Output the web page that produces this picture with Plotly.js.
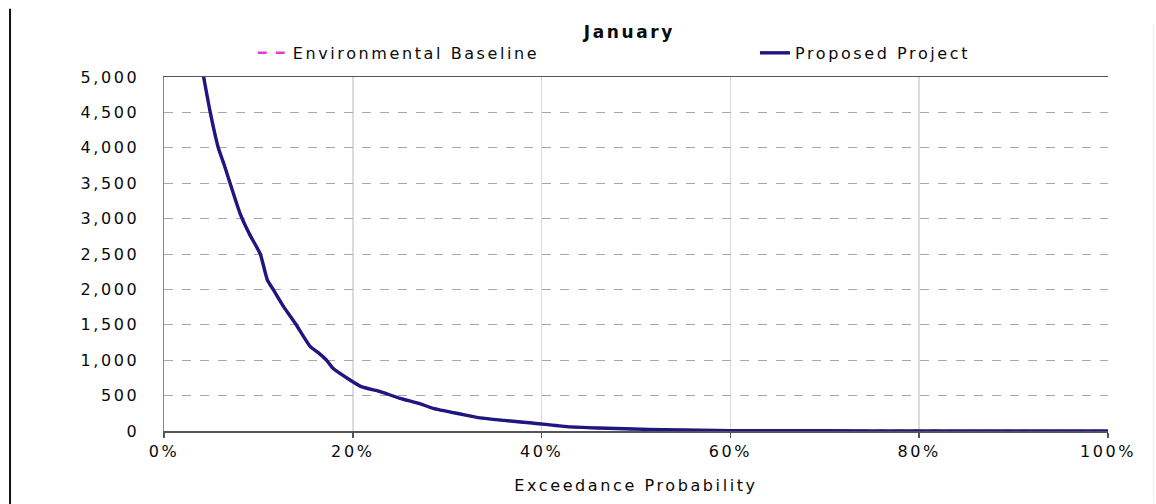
<!DOCTYPE html>
<html>
<head>
<meta charset="utf-8">
<script src="https://cdn.plot.ly/plotly-3.0.1.min.js"></script>
<style>
  html, body { margin: 0; padding: 0; background: #ffffff; }
  #chart { width: 1156px; height: 504px; }
  svg text { letter-spacing: 2.6px; }
</style>
</head>
<body>
<div id="chart"></div>
<script>
// Exceedance probability (%) and flow values
var exceedance = [3.8, 4.2, 4.9, 5.75, 6.4, 7.0, 8.05, 9.1, 10.2, 10.95, 11.6, 12.7, 13.9, 15.5, 16.4, 17.2, 17.9, 19.7, 20.9, 22.9, 25, 27, 28.5, 31.4, 33.5, 36, 39, 42.7, 46, 49.7, 53, 56.8, 60, 65, 70, 80, 90, 100];
var baseline   = [5300, 5000, 4500, 4000, 3750, 3500, 3075, 2770, 2500, 2133, 1992, 1750, 1521, 1191, 1100, 1003, 885, 720, 626, 556, 461, 390, 320, 240, 185, 150, 113, 62, 42, 28, 18, 10, 6, 4, 3, 2, 1, 0];
var proposed   = [5300, 5000, 4500, 4000, 3750, 3500, 3075, 2770, 2500, 2133, 1992, 1750, 1521, 1191, 1100, 1003, 885, 720, 626, 556, 461, 390, 320, 240, 185, 150, 113, 62, 42, 28, 18, 10, 6, 4, 3, 2, 1, 0];
var seriesNames = ["Environmental Baseline", "Proposed Project"];
var chartTitle = "January";
var xTitle = "Exceedance Probability";

var FONT = "DejaVu Sans, Liberation Sans, Arial, sans-serif";
var TXT = "#0a0a0a";

var traces = [
  {
    x: exceedance, y: baseline, name: seriesNames[0],
    type: "scatter", mode: "lines", legend: "legend",
    line: { color: "#e03ce0", width: 2.5, dash: "dash", shape: "spline", smoothing: 0.5 }
  },
  {
    x: exceedance, y: proposed, name: seriesNames[1],
    type: "scatter", mode: "lines", legend: "legend2",
    line: { color: "#1f177f", width: 3.4, shape: "spline", smoothing: 0.5 }
  }
];

var legendCommon = {
  orientation: "h",
  xanchor: "left",
  y: 1.068, yanchor: "middle",
  bgcolor: "rgba(0,0,0,0)",
  font: { family: FONT, size: 16, color: TXT }
};

var layout = {
  width: 1156, height: 504,
  paper_bgcolor: "#ffffff", plot_bgcolor: "#ffffff",
  margin: { l: 164, r: 48, t: 77, b: 73 },
  font: { family: FONT, size: 16, color: TXT },
  title: {
    text: "<b>" + chartTitle + "</b>",
    font: { family: FONT, size: 17, color: TXT },
    x: 0.493, xref: "paper", xanchor: "center",
    y: 0.9365, yref: "container", yanchor: "middle"
  },
  showlegend: true,
  legend: Object.assign({ x: 0.094 }, legendCommon),
  legend2: Object.assign({ x: 0.626 }, legendCommon),
  xaxis: {
    range: [0, 100],
    dtick: 20, tick0: 0,
    ticksuffix: "%",
    showgrid: true, gridcolor: "#dcdcdc", gridwidth: 1.5,
    showline: true, linecolor: "#555555", linewidth: 1.5, mirror: true,
    ticks: "outside", ticklen: 5, tickcolor: "#555555", tickwidth: 1.5,
    zeroline: false,
    tickfont: { family: FONT, size: 16, color: TXT },
    title: { text: xTitle, font: { family: FONT, size: 16, color: TXT }, standoff: 20 }
  },
  yaxis: {
    range: [0, 5000],
    dtick: 500, tick0: 0,
    tickformat: ",d",
    showgrid: true, gridcolor: "#a8a8a8", gridwidth: 1, griddash: "dash",
    showline: true, linecolor: "#888888", linewidth: 1.5,
    ticks: "", ticklabelstandoff: 20,
    zeroline: false,
    tickfont: { family: FONT, size: 16, color: TXT }
  },
  yaxis2: {
    overlaying: "y", side: "right",
    range: [0, 5000], dtick: 500, tick0: 0,
    showticklabels: false, showgrid: false, zeroline: false,
    showline: true, linecolor: "#000000", linewidth: 2,
    ticks: "outside", ticklen: 6, tickcolor: "#000000", tickwidth: 1.5
  },
  shapes: [
    { type: "line", xref: "paper", yref: "paper",
      x0: -0.1631, x1: -0.1631, y0: -0.23, y1: 1.193,
      line: { color: "#111111", width: 2 } },
    { type: "line", xref: "paper", yref: "paper",
      x0: 1.048, x1: 1.048, y0: -0.2, y1: 1.15,
      line: { color: "#eeeeee", width: 1 } }
  ]
};

Plotly.newPlot("chart", traces, layout, { displayModeBar: false, staticPlot: true });
</script>
</body>
</html>
